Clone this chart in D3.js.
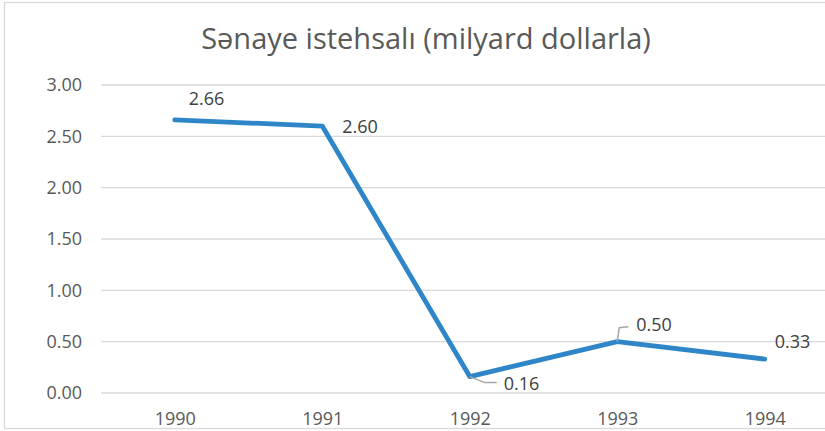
<!DOCTYPE html>
<html>
<head>
<meta charset="utf-8">
<script src="https://cdn.jsdelivr.net/npm/d3@7"></script>
<style>
  body { margin: 0; background: #fff; }
  svg { display: block; font-family: "Open Sans", "Noto Sans", sans-serif; }
</style>
</head>
<body>
<script>
// Chart data
const years = ["1990", "1991", "1992", "1993", "1994"];
const values = [2.66, 2.60, 0.16, 0.50, 0.33];
const yTicks = [0, 0.5, 1, 1.5, 2, 2.5, 3];
const titleText = "Sənaye istehsalı (milyard dollarla)";

// Label offsets (dx, dy from the point) and leader lines, as dragged in the original
const labelOffsets = [[14, -15], [20, 7], [34, 13], [19, -11], [10, -11]];
const leaders = [null, null, [[0, 0], [15, 6], [27, 6]], [[0, 0], [2, -14], [11, -15]], null];

const W = 825, H = 431;
const margin = { top: 85, left: 101, bottom: 38 };
const plotW = 737.5;
const plotH = H - margin.top - margin.bottom;

const svg = d3.select("body").append("svg")
  .attr("width", W)
  .attr("height", H);

// Outer chart border
svg.append("rect")
  .attr("x", 4.5).attr("y", 2.5)
  .attr("width", 840).attr("height", 426)
  .attr("fill", "none")
  .attr("stroke", "#d9d9d9")
  .attr("stroke-width", 1.3);

// Title
svg.append("text")
  .attr("x", 426)
  .attr("y", 49)
  .attr("text-anchor", "middle")
  .attr("fill", "#595959")
  .style("font-size", "29px")
  .text(titleText);

const g = svg.append("g")
  .attr("transform", `translate(${margin.left}, ${margin.top})`);

const x = d3.scalePoint()
  .domain(years)
  .range([0, plotW])
  .padding(0.5);

const y = d3.scaleLinear()
  .domain([0, 3])
  .range([plotH, 0]);

// Gridlines
g.selectAll(".grid")
  .data(yTicks)
  .join("line")
  .attr("class", "grid")
  .attr("x1", 0)
  .attr("x2", plotW)
  .attr("y1", d => y(d))
  .attr("y2", d => y(d))
  .attr("stroke", "#d9d9d9")
  .attr("stroke-width", 1.3);

// Y axis labels
const yAxis = g.append("g")
  .call(d3.axisLeft(y).tickValues(yTicks).tickFormat(d3.format(".2f")).tickSize(0).tickPadding(19));
yAxis.select(".domain").remove();
yAxis.selectAll("text")
  .attr("fill", "#595959")
  .style("font-size", "18px")
  .style("font-family", "Open Sans, sans-serif");

// X axis labels
const xAxis = g.append("g")
  .attr("transform", `translate(0, ${plotH})`)
  .call(d3.axisBottom(x).tickSize(0).tickPadding(19.5));
xAxis.select(".domain").remove();
xAxis.selectAll("text")
  .attr("fill", "#595959")
  .style("font-size", "18px")
  .style("font-family", "Open Sans, sans-serif");

// Line
const line = d3.line()
  .x((d, i) => x(years[i]))
  .y(d => y(d));

g.append("path")
  .datum(values)
  .attr("d", line)
  .attr("fill", "none")
  .attr("stroke", "#2e86c8")
  .attr("stroke-width", 4.8)
  .attr("stroke-linejoin", "round")
  .attr("stroke-linecap", "round");

// Leader lines
values.forEach((v, i) => {
  if (!leaders[i]) return;
  const px = x(years[i]), py = y(v);
  g.append("path")
    .attr("d", d3.line()(leaders[i].map(p => [px + p[0], py + p[1]])))
    .attr("fill", "none")
    .attr("stroke", "#a6a6a6")
    .attr("stroke-width", 1.5);
});

// Data labels
g.selectAll(".lbl")
  .data(values)
  .join("text")
  .attr("class", "lbl")
  .attr("x", (d, i) => x(years[i]) + labelOffsets[i][0])
  .attr("y", (d, i) => y(d) + labelOffsets[i][1])
  .attr("fill", "#404040")
  .style("font-size", "18px")
  .text(d => d3.format(".2f")(d));
</script>
</body>
</html>
